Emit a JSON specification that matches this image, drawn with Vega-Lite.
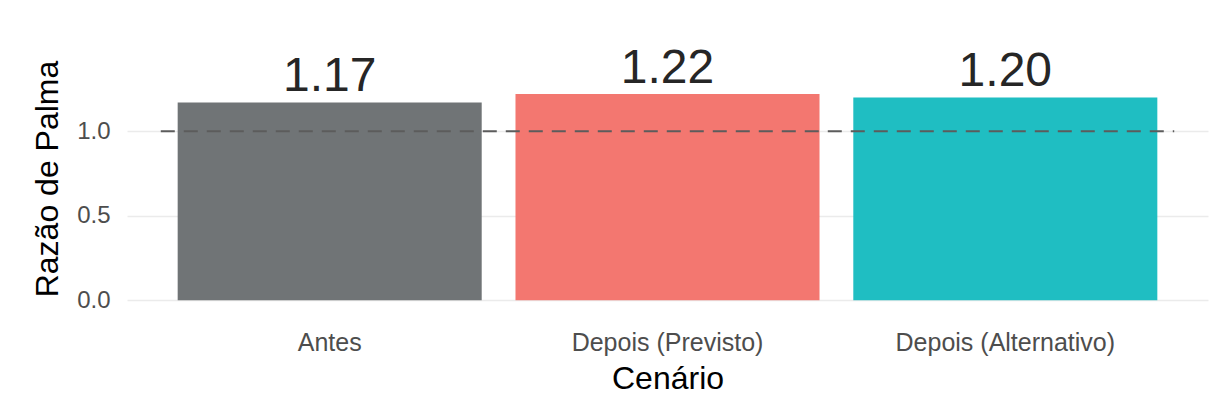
{
  "$schema": "https://vega.github.io/schema/vega-lite/v6.json",
  "autosize": "none",
  "width": 1081,
  "height": 267,
  "padding": {"left": 127, "top": 45, "right": 8, "bottom": 100},
  "background": "white",
  "config": {
    "font": "Liberation Sans",
    "view": {"stroke": null},
    "axis": {"domain": false, "ticks": false, "tickSize": 0, "labelFont": "Liberation Sans", "titleFont": "Liberation Sans", "titleFontWeight": "normal"}
  },
  "datasets": {
    "bars": [
      {"cenario": "Antes", "razao": 1.17},
      {"cenario": "Depois (Previsto)", "razao": 1.22},
      {"cenario": "Depois (Alternativo)", "razao": 1.20}
    ],
    "ref": [{"x": 0.5, "x2": 3.5, "y": 1.0}]
  },
  "layer": [
    {
      "data": {"name": "bars"},
      "encoding": {
        "x": {
          "field": "cenario", "type": "nominal", "sort": null,
          "scale": {"paddingInner": 0.1, "paddingOuter": 0.15},
          "axis": {"title": "Cenário", "labelAngle": 0, "labelFontSize": 25, "labelLimit": 0, "labelColor": "#4d4d4d", "labelPadding": 38, "labelBaseline": "alphabetic", "titleFontSize": 32, "titleColor": "#000000", "titlePadding": 8, "grid": false}
        },
        "y": {
          "field": "razao", "type": "quantitative",
          "scale": {"domain": [-0.07, 1.51], "nice": false, "zero": false},
          "axis": {"title": "Razão de Palma", "values": [0, 0.5, 1.0], "format": ".1f", "labelFontSize": 24, "labelColor": "#4d4d4d", "labelPadding": 17, "titleFontSize": 32, "titleColor": "#000000", "titlePadding": 12, "grid": true, "gridColor": "#ebebeb", "gridWidth": 1.5}
        }
      },
      "layer": [
        {
          "mark": {"type": "bar"},
          "encoding": {
            "color": {
              "field": "cenario", "type": "nominal", "sort": null,
              "scale": {"domain": ["Antes", "Depois (Previsto)", "Depois (Alternativo)"], "range": ["#707476", "#f37770", "#1fbec2"]},
              "legend": null
            }
          }
        },
        {
          "mark": {"type": "text", "baseline": "alphabetic", "dy": -11, "fontSize": 48, "color": "#262626", "font": "Liberation Sans"},
          "encoding": {
            "text": {"field": "razao", "type": "quantitative", "format": ".2f"}
          }
        }
      ]
    },
    {
      "data": {"name": "ref"},
      "mark": {"type": "rule", "strokeDash": [14, 9], "strokeWidth": 2, "color": "#5c5c5c"},
      "encoding": {
        "x": {"field": "x", "type": "quantitative", "scale": {"domain": [0.4, 3.6], "nice": false, "zero": false}, "axis": null},
        "x2": {"field": "x2"},
        "y": {"field": "y", "type": "quantitative"}
      }
    }
  ],
  "resolve": {"scale": {"x": "independent"}, "axis": {"x": "independent"}}
}
